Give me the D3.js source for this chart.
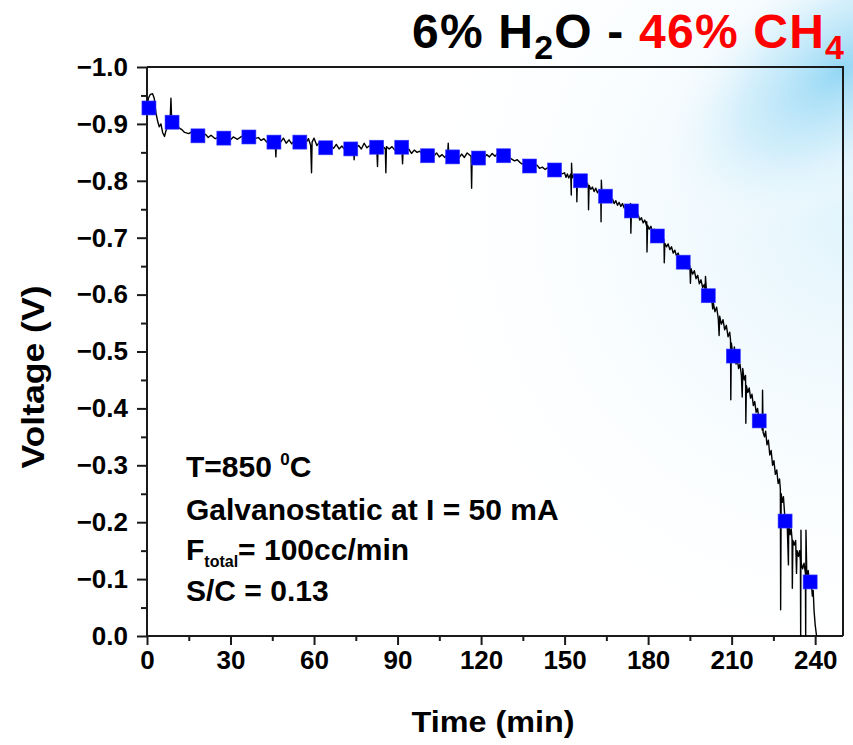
<!DOCTYPE html>
<html><head><meta charset="utf-8">
<script src="https://cdn.jsdelivr.net/npm/d3@7"></script>
<style>body{margin:0;background:#fff}svg{display:block}</style>
</head><body>
<svg id="c" width="853" height="745"></svg>
<script>
// ---- data ----
const markerTime = [0.7, 9.0, 18.3, 27.6, 36.6, 45.6, 54.9, 64.2, 73.2, 82.5, 91.5, 100.8, 109.8, 119.1, 128.1, 137.4, 146.4, 155.7, 164.7, 174.0, 183.3, 192.6, 201.6, 210.6, 219.9, 229.2, 238.2];
const markerVolt = [-0.928, -0.903, -0.879, -0.875, -0.877, -0.868, -0.868, -0.858, -0.856, -0.859, -0.859, -0.844, -0.842, -0.840, -0.844, -0.826, -0.819, -0.800, -0.773, -0.747, -0.703, -0.657, -0.598, -0.492, -0.378, -0.202, -0.095];

// raw voltage trace: [time (min), voltage (V)]
const lineData = [
[0,-0.930],[0.5,-0.945],[1.2,-0.952],[2.0,-0.953],[2.6,-0.945],[3.2,-0.920],[3.8,-0.905],[4.4,-0.895],[5.0,-0.900],[5.6,-0.885],[6.3,-0.878],[6.8,-0.888],[7.5,-0.895],[8.3,-0.905],[8.6,-0.945],[8.8,-0.915],[9.5,-0.905],[10.5,-0.900],[11.5,-0.893],[12.5,-0.890],[13.5,-0.885],[15,-0.883],[16,-0.886],[17,-0.880],[18.5,-0.879],[20,-0.877],[21,-0.882],[22,-0.876],[23,-0.880],[24.5,-0.874],[26,-0.877],[27.5,-0.875],[29,-0.878],[30,-0.872],[31,-0.877],[32.5,-0.873],[34,-0.878],[35.5,-0.876],[37,-0.878],[38.5,-0.874],[40,-0.876],[41,-0.871],[42,-0.874],[43,-0.868],[44,-0.874],[45,-0.868],[46,-0.872],[46.3,-0.842],[46.5,-0.870],[48,-0.868],[49,-0.875],[50,-0.866],[51,-0.872],[52,-0.865],[53,-0.871],[54.5,-0.868],[56,-0.870],[57,-0.866],[58,-0.874],[58.8,-0.862],[59.1,-0.814],[59.3,-0.868],[60,-0.875],[61,-0.862],[62,-0.868],[63,-0.860],[64.5,-0.858],[66,-0.862],[67,-0.857],[68,-0.864],[69,-0.856],[70,-0.861],[71,-0.855],[72,-0.860],[73,-0.856],[74.2,-0.854],[74.4,-0.837],[74.6,-0.858],[76,-0.862],[77,-0.856],[78,-0.866],[79,-0.858],[80,-0.862],[81,-0.856],[82.5,-0.860],[82.8,-0.825],[83,-0.858],[84.5,-0.862],[85.6,-0.856],[85.8,-0.814],[86,-0.860],[87,-0.856],[88,-0.860],[89,-0.854],[90,-0.858],[91.5,-0.859],[91.8,-0.830],[92,-0.856],[93,-0.852],[94,-0.856],[95,-0.848],[96,-0.854],[97,-0.850],[98,-0.852],[99,-0.846],[100.5,-0.845],[102,-0.848],[103,-0.843],[104,-0.849],[105,-0.842],[106,-0.846],[107,-0.841],[108,-0.848],[108.2,-0.866],[108.4,-0.845],[109.5,-0.842],[111,-0.846],[112,-0.840],[113,-0.847],[114,-0.841],[115,-0.849],[116.4,-0.843],[116.6,-0.787],[116.8,-0.845],[118,-0.850],[119,-0.842],[120,-0.846],[121,-0.840],[122,-0.846],[123,-0.842],[124,-0.848],[125,-0.843],[126,-0.849],[127,-0.845],[128.5,-0.845],[130,-0.842],[131,-0.838],[132,-0.835],[133,-0.837],[134,-0.832],[135,-0.829],[136,-0.830],[137.5,-0.826],[139,-0.825],[140,-0.828],[141,-0.822],[142,-0.824],[143,-0.820],[144,-0.823],[145,-0.818],[146.5,-0.819],[148,-0.817],[149,-0.812],
[150,-0.814],[150.5,-0.806],[151,-0.812],[151.5,-0.805],[152.2,-0.812],[152.4,-0.775],[152.5,-0.831],[152.7,-0.805],[153.2,-0.810],[153.7,-0.802],[154.3,-0.806],[154.4,-0.763],[154.6,-0.802],[155.2,-0.796],[155.7,-0.800],[156.3,-0.793],[157,-0.797],[157.6,-0.790],[158.2,-0.796],[158.5,-0.790],[158.6,-0.749],[158.8,-0.792],[159.4,-0.785],[160,-0.789],[160.6,-0.781],[161.2,-0.787],[161.8,-0.779],[162.4,-0.784],[163,-0.777],[163.1,-0.728],[163.2,-0.801],[163.4,-0.778],[164,-0.773],[164.7,-0.776],[165.3,-0.768],[166,-0.772],[166.6,-0.764],[167.2,-0.768],[167.8,-0.760],[168.4,-0.765],[169,-0.757],[169.6,-0.762],[170.2,-0.755],[170.8,-0.760],[171.4,-0.752],[172,-0.757],[172.6,-0.749],[173.2,-0.755],[173.7,-0.760],[173.8,-0.708],[174.0,-0.747],[174.6,-0.742],[175.2,-0.746],[175.8,-0.737],[176.4,-0.741],[177,-0.731],[177.6,-0.735],[178.2,-0.726],[178.8,-0.731],[179.4,-0.722],[179.5,-0.728],[179.6,-0.675],[179.8,-0.722],[180.4,-0.715],[181,-0.720],[181.6,-0.710],[182.2,-0.715],[182.8,-0.704],[183.3,-0.708],[183.9,-0.698],[184.5,-0.702],[185.1,-0.692],[185.7,-0.697],[185.8,-0.656],[186,-0.690],[186.6,-0.684],[187.2,-0.689],[187.8,-0.679],[188.4,-0.684],[189,-0.673],[189.6,-0.678],[190.2,-0.668],[190.8,-0.673],[191.4,-0.662],[192,-0.667],[192.6,-0.657],[193.2,-0.652],[193.8,-0.660],[194.4,-0.645],[195,-0.650],[195.2,-0.620],[195.4,-0.646],[196,-0.636],[196.6,-0.642],[197.2,-0.628],[197.8,-0.634],[198.4,-0.619],[199,-0.626],[199.6,-0.612],[200.2,-0.618],[200.5,-0.607],[200.6,-0.632],[201,-0.603],[201.6,-0.598],[202.2,-0.588],[202.8,-0.594],[203.2,-0.575],[203.4,-0.586],[204,-0.570],[204.6,-0.578],[205.2,-0.558],[205.5,-0.528],[205.7,-0.562],[206.3,-0.548],[206.9,-0.556],[207.5,-0.538],[208.1,-0.546],[208.7,-0.526],[209.3,-0.534],[209.6,-0.520],[209.7,-0.415],[209.9,-0.515],[210.3,-0.500],[210.6,-0.494],[211,-0.508],[211.2,-0.488],[211.6,-0.478],[212,-0.488],[212.5,-0.470],[213,-0.478],[213.5,-0.458],[213.8,-0.420],[214,-0.470],[214.5,-0.450],[215,-0.458],[215.1,-0.374],[215.3,-0.440],[215.8,-0.428],[216.3,-0.436],[216.8,-0.418],[217.3,-0.425],[217.8,-0.405],[218.3,-0.412],[218.8,-0.393],[219.3,-0.400],[219.9,-0.378],[220.4,-0.385],[221,-0.362],[221.1,-0.432],[221.3,-0.358],[221.8,-0.350],[222.2,-0.360],[222.7,-0.336],[223.2,-0.344],[223.7,-0.318],[224.2,-0.326],[224.7,-0.300],[225.2,-0.308],[225.7,-0.284],[226.2,-0.292],[226.7,-0.268],[227.2,-0.276],[227.5,-0.258],[227.6,-0.046],[227.8,-0.250],[228.2,-0.235],[228.6,-0.245],[229.2,-0.202],[229.6,-0.212],[230,-0.190],[230.4,-0.125],[230.5,-0.200],[231,-0.178],[231.4,-0.188],[231.7,-0.170],[231.8,-0.084],[232,-0.168],[232.5,-0.160],[233,-0.168],[233.3,-0.110],[233.5,-0.150],[234,-0.140],[234.4,-0.150],[234.7,-0.132],[234.8,0.0],[234.9,-0.186],[235,-0.128],[235.5,-0.118],[236,-0.128],[236.5,-0.110],[236.6,0.0],[236.7,-0.186],[237,-0.105],[237.5,-0.115],[238,-0.092],[238.5,-0.100],[239,-0.070],[239.3,-0.080],[239.6,-0.045],[240,-0.020],[240.5,0.0]
];

const xTicks = [0, 30, 60, 90, 120, 150, 180, 210, 240];
const xMinor = [15, 45, 75, 105, 135, 165, 195, 225];
const yTicks = [-1.0, -0.9, -0.8, -0.7, -0.6, -0.5, -0.4, -0.3, -0.2, -0.1, 0.0];
const yMinor = [-0.95, -0.85, -0.75, -0.65, -0.55, -0.45, -0.35, -0.25, -0.15, -0.05];
const notes = ["T=850 ", "Galvanostatic at I = 50 mA", "F", "S/C = 0.13"];
const titleParts = [
  {text: "6% H", color: "#000", sub: false},
  {text: "2", color: "#000", sub: true},
  {text: "O - ", color: "#000", sub: false},
  {text: "46% CH", color: "#ff0000", sub: false},
  {text: "4", color: "#ff0000", sub: true}
];

// ---- drawing ----
const svg = d3.select("#c");
const L = 147, R = 843, T = 67, B = 636;
const x = d3.scaleLinear().domain([0, 250]).range([L, R]);
const y = d3.scaleLinear().domain([0, -1]).range([B, T]);

const defs = svg.append("defs");
const g1 = defs.append("radialGradient").attr("id", "bg1").attr("gradientUnits", "userSpaceOnUse")
  .attr("cx", 842).attr("cy", 70).attr("r", 150)
  .attr("gradientTransform", "translate(842,70) rotate(-35) scale(1.5,0.8) translate(-842,-70)");
g1.append("stop").attr("offset", 0).attr("stop-color", "#8ed5f4").attr("stop-opacity", 0.95);
g1.append("stop").attr("offset", 0.5).attr("stop-color", "#bfe7f9").attr("stop-opacity", 0.6);
g1.append("stop").attr("offset", 1).attr("stop-color", "#ffffff").attr("stop-opacity", 0);
const g2 = defs.append("radialGradient").attr("id", "bg2").attr("gradientUnits", "userSpaceOnUse")
  .attr("cx", 853).attr("cy", 220).attr("r", 480);
g2.append("stop").attr("offset", 0).attr("stop-color", "#dcf2fc").attr("stop-opacity", 0.85);
g2.append("stop").attr("offset", 1).attr("stop-color", "#ffffff").attr("stop-opacity", 0);

svg.append("rect").attr("width", 853).attr("height", 745).attr("fill", "#fff");
svg.append("rect").attr("width", 853).attr("height", 745).attr("fill", "url(#bg2)");
svg.append("rect").attr("width", 853).attr("height", 745).attr("fill", "url(#bg1)");

const font = "'Liberation Sans', Arial, sans-serif";

// frame
svg.append("path").attr("d", `M${L},${T}H${R}V${B}`).attr("fill", "none").attr("stroke", "#1a1a1a").attr("stroke-width", 2);

// axes
const xAxis = svg.append("g").attr("transform", `translate(0,${B})`)
  .call(d3.axisBottom(x).tickValues(xTicks).tickSize(9).tickPadding(6).tickFormat(d3.format("d")));
const xAxisMinor = svg.append("g").attr("transform", `translate(0,${B})`)
  .call(d3.axisBottom(x).tickValues(xMinor).tickSize(5).tickFormat(""));
const yAxis = svg.append("g").attr("transform", `translate(${L},0)`)
  .call(d3.axisLeft(y).tickValues(yTicks).tickSize(10).tickPadding(9).tickFormat(d3.format(".1f")));
const yAxisMinor = svg.append("g").attr("transform", `translate(${L},0)`)
  .call(d3.axisLeft(y).tickValues(yMinor).tickSize(6).tickFormat(""));
[xAxis, xAxisMinor, yAxis, yAxisMinor].forEach(a => {
  a.select(".domain").attr("stroke", "#1a1a1a").attr("stroke-width", 2);
  a.selectAll(".tick line").attr("stroke", "#1a1a1a").attr("stroke-width", 2);
  a.selectAll("text").attr("font-family", font).attr("font-weight", "bold").attr("font-size", 26).attr("fill", "#000");
});
xAxis.select(".domain").attr("d", `M${L},0H${R}`);
xAxisMinor.select(".domain").remove();
yAxisMinor.select(".domain").remove();
yAxis.select(".domain").attr("d", `M0,${T}V${B}`);

// line
const line = d3.line().x(d => x(d[0])).y(d => y(d[1]));
svg.append("path").datum(lineData).attr("d", line).attr("fill", "none")
  .attr("stroke", "#000").attr("stroke-width", 1.4).attr("stroke-linejoin", "round");

// markers
const ms = 14;
svg.append("g").selectAll("rect").data(markerTime).join("rect")
  .attr("x", (d) => x(d) - ms / 2).attr("y", (d, i) => y(markerVolt[i]) - ms / 2)
  .attr("width", ms).attr("height", ms).attr("fill", "#0000ff")
  .attr("stroke", "#3a3aff").attr("stroke-width", 0.6);

// axis titles
svg.append("text").attr("x", 493).attr("y", 732).attr("text-anchor", "middle")
  .attr("font-family", font).attr("font-weight", "bold").attr("font-size", 30)
  .attr("textLength", 163).attr("lengthAdjust", "spacingAndGlyphs").text("Time (min)");
svg.append("text").attr("transform", "translate(44,377) rotate(-90)").attr("text-anchor", "middle")
  .attr("font-family", font).attr("font-weight", "bold").attr("font-size", 31)
  .attr("textLength", 183).attr("lengthAdjust", "spacingAndGlyphs").text("Voltage (V)");

// annotations
const ann = svg.append("g").attr("font-family", font).attr("font-weight", "bold").attr("font-size", 30).attr("fill", "#000");
const t1 = ann.append("text").attr("x", 186).attr("y", 477);
t1.append("tspan").text(notes[0]);
t1.append("tspan").attr("font-size", 17).attr("dy", -12).text("0");
t1.append("tspan").attr("dy", 12).text("C");
ann.append("text").attr("x", 186).attr("y", 520).text(notes[1]);
const t3 = ann.append("text").attr("x", 186).attr("y", 560);
t3.append("tspan").text(notes[2]);
t3.append("tspan").attr("font-size", 16).attr("dy", 7).text("total");
t3.append("tspan").attr("dy", -7).text("= 100cc/min");
ann.append("text").attr("x", 186).attr("y", 601).text(notes[3]);

// title: one text element, subscripts as tspans
const title = svg.append("text").attr("x", 412).attr("y", 48)
  .attr("font-family", font).attr("font-weight", "bold").attr("font-size", 48)
  .attr("letter-spacing", 1.2).attr("xml:space", "preserve");
let down = false;
titleParts.forEach(p => {
  const ts = title.append("tspan").attr("fill", p.color).text(p.text);
  if (p.sub && !down) { ts.attr("font-size", 34).attr("dy", 11); down = true; }
  else if (!p.sub && down) { ts.attr("dy", -11); down = false; }
});
</script>
</body></html>
